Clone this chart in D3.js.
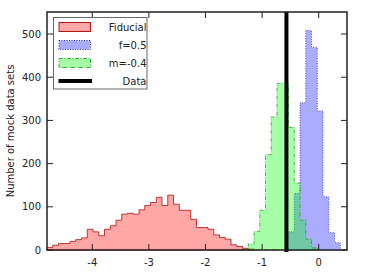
<!DOCTYPE html>
<html>
<head>
<meta charset="utf-8">
<script src="https://cdn.jsdelivr.net/npm/d3@7"></script>
<style>
  body { margin: 0; background: #fff; }
  svg { display: block; font-family: "DejaVu Sans", sans-serif; }
</style>
</head>
<body>
<div id="chart"></div>
<script>
// histogram counts (equal width bins)
const binWidth = 0.1016;

const fiducialStart = -4.8;
const fiducialCounts = [6, 11, 15, 15, 20, 24, 28, 48, 42, 33, 48, 56, 69, 83, 85, 83, 93, 103,
  110, 122, 103, 127, 106, 92, 92, 71, 52, 52, 48, 35, 29, 25, 12, 8, 4, 2];

const fStart = -0.533;
const fCounts = [42, 131, 341, 508, 469, 322, 123, 40, 17];

const mStart = -1.346;
const mCounts = [2, 14, 43, 92, 221, 308, 386, 386, 284, 155, 69, 25, 5];

const dataValue = -0.57;

const xTicks = [-4, -3, -2, -1, 0];
const yTicks = [0, 100, 200, 300, 400, 500];
const legendLabels = ['Fiducial', 'f=0.5', 'm=-0.4', 'Data'];

const W = 366, H = 274;
const margin = { left: 47, right: 19, top: 12, bottom: 24 };

const svg = d3.select('#chart').append('svg')
  .attr('width', W)
  .attr('height', H);

const x = d3.scaleLinear().domain([-4.8, 0.5]).range([margin.left, W - margin.right]);
const y = d3.scaleLinear().domain([0, 551]).range([H - margin.bottom, margin.top]);

const series = [
  { start: fiducialStart, counts: fiducialCounts, fill: 'rgba(255,0,0,0.35)', stroke: '#b00000', dash: null },
  { start: fStart, counts: fCounts, fill: 'rgba(0,0,255,0.33)', stroke: '#2020b0', dash: '1,1.5' },
  { start: mStart, counts: mCounts, fill: 'rgba(0,255,0,0.35)', stroke: '#20a020', dash: '4,1.5,1,1.5' }
];

const area = d3.area()
  .x(d => x(d.x))
  .y0(y(0))
  .y1(d => y(d.c))
  .curve(d3.curveStepAfter);

const plot = svg.append('g');

series.forEach(s => {
  const pts = s.counts.map((c, i) => ({ x: s.start + i * binWidth, c }));
  pts.push({ x: s.start + s.counts.length * binWidth, c: s.counts[s.counts.length - 1] });
  plot.append('path')
    .attr('d', area(pts))
    .attr('fill', s.fill)
    .attr('stroke', s.stroke)
    .attr('stroke-width', 0.75)
    .attr('stroke-dasharray', s.dash);
});

// observed value
plot.append('line')
  .attr('x1', x(dataValue)).attr('x2', x(dataValue))
  .attr('y1', y(0) + 2).attr('y2', y(551))
  .attr('stroke', '#000')
  .attr('stroke-width', 4);

// axes (ticks pointing inward on all four sides)
const tickLen = 6;
const axisG = svg.append('g').attr('stroke', '#222').attr('stroke-width', 1);

xTicks.forEach(t => {
  axisG.append('line').attr('x1', x(t)).attr('x2', x(t)).attr('y1', y(0)).attr('y2', y(0) - tickLen);
  axisG.append('line').attr('x1', x(t)).attr('x2', x(t)).attr('y1', y(551)).attr('y2', y(551) + tickLen);
});
yTicks.forEach(t => {
  axisG.append('line').attr('x1', x(-4.8)).attr('x2', x(-4.8) + tickLen).attr('y1', y(t)).attr('y2', y(t));
  axisG.append('line').attr('x1', x(0.5)).attr('x2', x(0.5) - tickLen).attr('y1', y(t)).attr('y2', y(t));
});

svg.append('rect')
  .attr('x', x(-4.8)).attr('y', y(551))
  .attr('width', x(0.5) - x(-4.8)).attr('height', y(0) - y(551))
  .attr('fill', 'none')
  .attr('stroke', '#222')
  .attr('stroke-width', 1.5);

svg.append('g').selectAll('text')
  .data(xTicks)
  .enter().append('text')
  .attr('x', d => x(d))
  .attr('y', y(0) + 16)
  .attr('text-anchor', 'middle')
  .attr('font-size', 10)
  .attr('fill', '#222')
  .text(d => d === 0 ? '0' : '-' + Math.abs(d));

svg.append('g').selectAll('text')
  .data(yTicks)
  .enter().append('text')
  .attr('x', x(-4.8) - 6)
  .attr('y', d => y(d) + 3.5)
  .attr('text-anchor', 'end')
  .attr('font-size', 10)
  .attr('fill', '#222')
  .text(d => d);

svg.append('text')
  .attr('transform', 'translate(13.5,131) rotate(-90)')
  .attr('text-anchor', 'middle')
  .attr('font-size', 10)
  .attr('fill', '#222')
  .text('Number of mock data sets');

// legend
const leg = svg.append('g');
leg.append('rect')
  .attr('x', 53.5).attr('y', 17.5)
  .attr('width', 93.5).attr('height', 71.5)
  .attr('fill', '#fff')
  .attr('stroke', '#444')
  .attr('stroke-width', 0.8);

legendLabels.forEach((label, i) => {
  const cy = 27 + i * 18;
  if (i < 3) {
    const s = series[i];
    leg.append('rect')
      .attr('x', 59).attr('y', cy - 4.5)
      .attr('width', 31.5).attr('height', 9)
      .attr('fill', s.fill)
      .attr('stroke', s.stroke)
      .attr('stroke-width', 0.9)
      .attr('stroke-dasharray', s.dash);
  } else {
    leg.append('line')
      .attr('x1', 58.5).attr('x2', 92)
      .attr('y1', cy).attr('y2', cy)
      .attr('stroke', '#000')
      .attr('stroke-width', 4);
  }
  leg.append('text')
    .attr('x', 146.5)
    .attr('y', cy + 3.5)
    .attr('text-anchor', 'end')
    .attr('font-size', 10)
    .attr('fill', '#222')
    .text(label);
});
</script>
</body>
</html>
